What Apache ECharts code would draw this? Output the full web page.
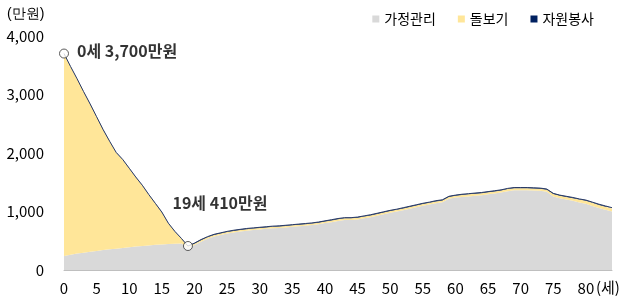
<!DOCTYPE html>
<html>
<head>
<meta charset="utf-8">
<script src="https://cdn.jsdelivr.net/npm/echarts@6/dist/echarts.min.js"></script>
<style>
  html, body { margin: 0; padding: 0; background: #fff; }
  #chart { width: 619px; height: 297px; }
</style>
</head>
<body>
<div id="chart"></div>
<script>
// 나이 (세)
var ages = [0,1,2,3,4,5,6,7,8,9,10,11,12,13,14,15,16,17,18,19,
  20,21,22,23,24,25,26,27,28,29,30,31,32,33,34,35,36,37,38,39,
  40,41,42,43,44,45,46,47,48,49,50,51,52,53,54,55,56,57,58,59,
  60,61,62,63,64,65,66,67,68,69,70,71,72,73,74,75,76,77,78,79,
  80,81,82,83,84]

// 가정관리 (만원)
var housework = [240,260,280,295,310,325,340,355,365,378,390,400,410,420,430,437,445,450,455,385,
  428,483,533,573,598,623,643,658,673,683,693,703,713,718,728,738,748,758,768,783,
  803,818,838,853,853,863,883,903,928,953,978,998,1023,1048,1073,1098,1118,1143,1158,1218,
  1238,1248,1258,1268,1278,1293,1308,1323,1348,1363,1363,1363,1358,1353,1338,1258,1226,1204,1182,1155,
  1133,1096,1059,1028,998]

// 돌보기 (만원)
var caring = [3455,3215,2985,2750,2525,2290,2055,1840,1640,1507,1345,1185,1035,865,705,548,350,205,80,20,
  20,25,25,25,25,25,25,25,25,25,25,25,25,25,25,25,25,25,25,25,
  25,30,30,30,30,30,30,30,30,30,30,30,30,30,30,30,30,30,30,30,
  30,35,35,35,35,35,35,35,35,35,35,35,35,35,35,40,42,44,46,48,
  50,52,54,55,55]

// 자원봉사 (만원)
var volunteer = [5,5,5,5,5,5,5,5,5,5,5,5,5,5,5,5,5,5,5,5,
  12,12,12,12,12,12,12,12,12,12,12,12,12,12,12,12,12,12,12,12,
  12,12,12,12,12,12,12,12,12,12,12,12,12,12,12,12,12,12,12,12,
  12,12,12,12,12,12,12,12,12,12,12,12,12,12,12,12,12,12,12,12,
  12,12,12,12,12]

// 강조 지점
var noteAges = [0, 19]
var noteValues = [3700, 410]
var noteTexts = ['0세 3,700만원', '19세 410만원']

var FONT = '"Noto Sans CJK KR", "Noto Sans", sans-serif'

var chart = echarts.init(document.getElementById('chart'))

chart.setOption({
  animation: false,
  textStyle: { fontFamily: FONT },
  grid: { left: 64, right: 7, top: 36, bottom: 27 },
  legend: {
    data: ['가정관리', '돌보기', '자원봉사'],
    right: 20,
    top: 7,
    icon: 'rect',
    itemWidth: 7,
    itemHeight: 7,
    itemGap: 22,
    textStyle: { fontSize: 14, color: '#000', fontFamily: FONT }
  },
  xAxis: {
    type: 'category',
    boundaryGap: false,
    data: ages,
    axisLine: { lineStyle: { color: '#bfbfbf', width: 1 } },
    axisTick: { show: false },
    axisLabel: { interval: 4, color: '#000', fontSize: 15, margin: 11, fontFamily: FONT }
  },
  yAxis: {
    type: 'value',
    min: 0,
    max: 4000,
    interval: 1000,
    splitLine: { show: false },
    axisLine: { show: false },
    axisTick: { show: false },
    axisLabel: {
      color: '#000', fontSize: 15, margin: 20, fontFamily: FONT,
      formatter: function (v) { return v.toLocaleString('en-US') }
    }
  },
  graphic: [
    { type: 'text', left: 7, top: 7, style: { text: '(만원)', fontSize: 14, fill: '#000', font: '14px ' + FONT } },
    { type: 'text', left: 596, top: 280, style: { text: '(세)', fill: '#000', font: '15px ' + FONT } }
  ],
  series: [
    {
      name: '가정관리',
      type: 'line',
      stack: 'total',
      data: housework,
      showSymbol: false,
      lineStyle: { width: 0 },
      itemStyle: { color: '#d9d9d9' },
      areaStyle: { color: '#d9d9d9', opacity: 1 }
    },
    {
      name: '돌보기',
      type: 'line',
      stack: 'total',
      data: caring,
      showSymbol: false,
      lineStyle: { width: 0 },
      itemStyle: { color: '#ffe699' },
      areaStyle: { color: '#ffe699', opacity: 1 }
    },
    {
      name: '자원봉사',
      type: 'line',
      stack: 'total',
      data: volunteer,
      showSymbol: false,
      lineStyle: { width: 1, color: '#2a3b66' },
      itemStyle: { color: '#002060' },
      areaStyle: { color: '#1f3864', opacity: 1 }
    },
    {
      name: 'note',
      type: 'scatter',
      z: 10,
      symbol: 'circle',
      symbolSize: 9,
      itemStyle: { color: '#fff', borderColor: '#333', borderWidth: 1 },
      data: noteAges.map(function (a, i) {
        return {
          value: [a, noteValues[i]],
          label: {
            show: true,
            formatter: noteTexts[i],
            position: i === 0 ? 'right' : 'top',
            distance: i === 0 ? 8 : 30,
            offset: i === 0 ? [0, -3] : [32, 0],
            fontSize: 16,
            fontWeight: 'bold',
            color: '#000',
            fontFamily: FONT
          }
        }
      })
    }
  ]
})
</script>
</body>
</html>
